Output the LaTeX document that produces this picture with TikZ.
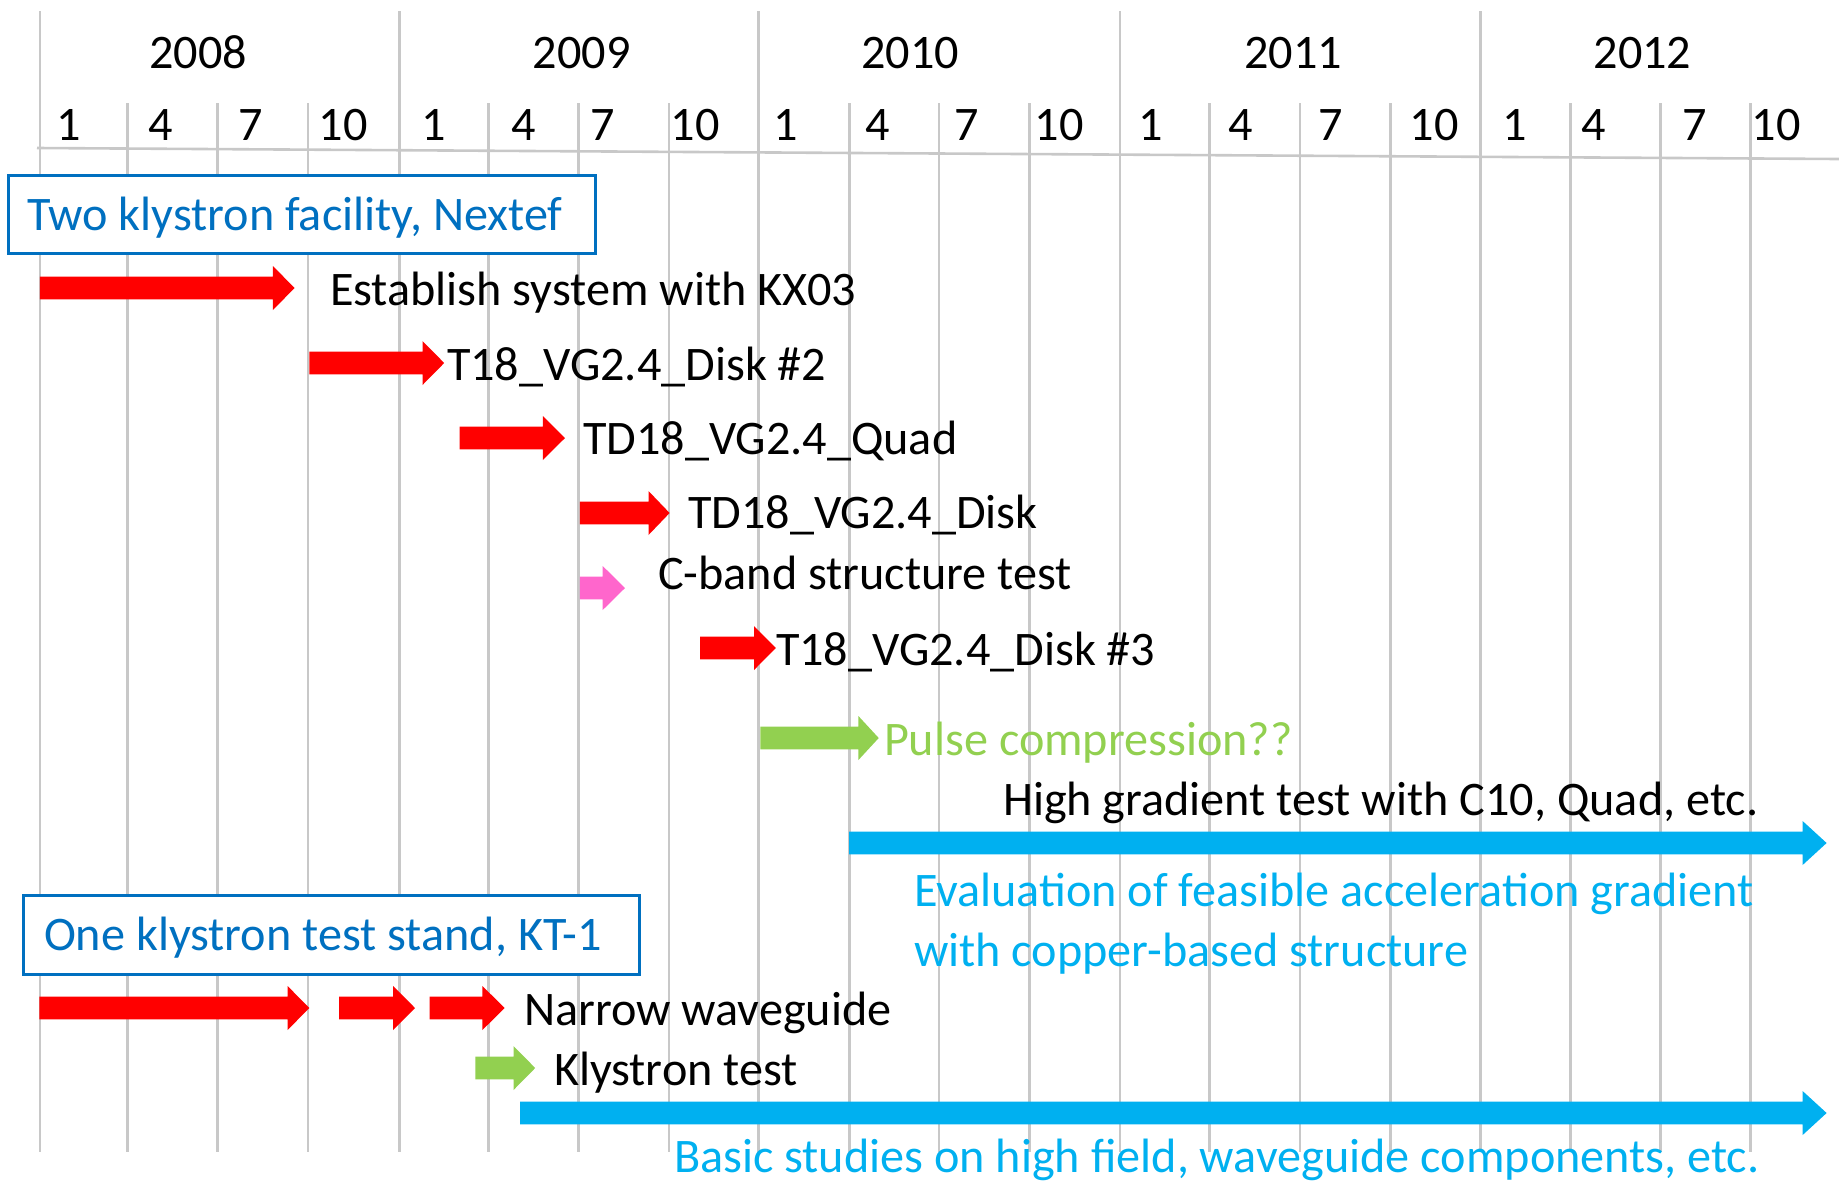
\documentclass[tikz,border=0pt]{standalone}
\usepackage{fontspec}
\setmainfont{Carlito}
\definecolor{tlred}{HTML}{FF0000}
\definecolor{tlpink}{HTML}{FF66CC}
\definecolor{tlgreen}{HTML}{92D050}
\definecolor{tlcyan}{HTML}{00B0F0}
\definecolor{tlblue}{HTML}{0070C0}
\definecolor{tlgrid}{HTML}{C8C8C8}
% block arrow: start x, head start x, tip x, centre y, colour
\newcommand\tlarrow[5]{%
  \fill[#5] (#1,{#4-11.3}) -- (#2,{#4-11.3}) -- (#2,{#4-22}) -- (#3,#4)
    -- (#2,{#4+22}) -- (#2,{#4+11.3}) -- (#1,{#4+11.3}) -- cycle;}
\begin{document}
\begin{tikzpicture}[x=0.5pt,y=-0.5pt,
  every node/.style={font=\fontsize{24.1}{29}\selectfont,inner sep=0pt,outer sep=0pt},
  gridline/.style={draw=tlgrid,line width=1.3pt},
  label/.style={anchor=base west},
  yearlabel/.style={anchor=base},
  groupbox/.style={draw=tlblue,fill=white,line width=1.5pt}]
\useasboundingbox (0,0) rectangle (1839,1184);

% calendar grid
\foreach \gx in {39.9,399.6,758.2,1119.8,1480.2}
  \draw[gridline] (\gx,11) -- (\gx,1152);
\foreach \gx in {127.3,217.7,308.1,488.3,578.6,669,849.2,938.9,1029.3,1209.6,1300,1390.4,1570.7,1660.5,1750.3}
  \draw[gridline] (\gx,103) -- (\gx,1152);
\draw[gridline] (37,148) -- (1839,159);

% years and months
\foreach \yx/\yr in {198/2008,581.6/2009,910/2010,1293/2011,1642.5/2012}
  \node[yearlabel] (year\yr) at (\yx,68) {\yr};
\foreach \mx/\mo [count=\i] in {69/1,161/4,251/7,343/10,434/1,524/4,603/7,695/10,786/1,878/4,967/7,1059/10,1151/1,1241/4,1331/7,1434/10,1515/1,1594/4,1695/7,1776/10}
  \node[yearlabel] (month\i) at (\mx,140) {\mo};

% Nextef schedule
\tlarrow{39.9}{272.9}{294.6}{288}{tlred}
\tlarrow{309.3}{422.5}{444.2}{363}{tlred}
\tlarrow{459.5}{542.8}{565}{438}{tlred}
\tlarrow{579.8}{648.5}{669.6}{513}{tlred}
\tlarrow{579.8}{602.7}{625}{588}{tlpink}
\tlarrow{700}{754}{775.8}{648}{tlred}
\tlarrow{760.3}{858.4}{878.7}{738}{tlgreen}
\tlarrow{849}{1802.6}{1826.6}{843}{tlcyan}

% KT-1 schedule
\tlarrow{39.3}{287.6}{309.3}{1008}{tlred}
\tlarrow{339.2}{393.2}{415}{1008}{tlred}
\tlarrow{429.6}{482.4}{504.7}{1008}{tlred}
\tlarrow{475.4}{513.5}{535.2}{1068}{tlgreen}
\tlarrow{520}{1802.6}{1826.6}{1113}{tlcyan}

% group headers
\draw[groupbox] (8.8,175) rectangle (595.7,253);
\node[label,text=tlblue] (nextef) at (27,230) {Two klystron facility, Nextef};
\draw[groupbox] (23.5,895) rectangle (639.7,974);
\node[label,text=tlblue] (kt1) at (44,950) {One klystron test stand, KT-1};

% task labels
\node[label] (kx03) at (330,305) {Establish system with KX03};
\node[label] (disk2) at (447,380) {T18\_VG2.4\_Disk \#2};
\node[label] (quad) at (583,454) {TD18\_VG2.4\_Quad};
\node[label] (disk) at (688,528) {TD18\_VG2.4\_Disk};
\node[label] (cband) at (658,589) {C-band structure test};
\node[label] (disk3) at (776,665) {T18\_VG2.4\_Disk \#3};
\node[label,text=tlgreen] (pulse) at (884,755) {Pulse compression??};
\node[label] (hg) at (1003,815) {High gradient test with C10, Quad, etc.};
\node[label,text=tlcyan] (eval1) at (914,906) {Evaluation of feasible acceleration gradient};
\node[label,text=tlcyan] (eval2) at (914,966) {with copper-based structure};
\node[label] (narrow) at (524,1025) {Narrow waveguide};
\node[label] (klytest) at (554,1085) {Klystron test};
\node[label,text=tlcyan] (basic) at (674,1172) {Basic studies on high field, waveguide components, etc.};
\end{tikzpicture}
\end{document}
